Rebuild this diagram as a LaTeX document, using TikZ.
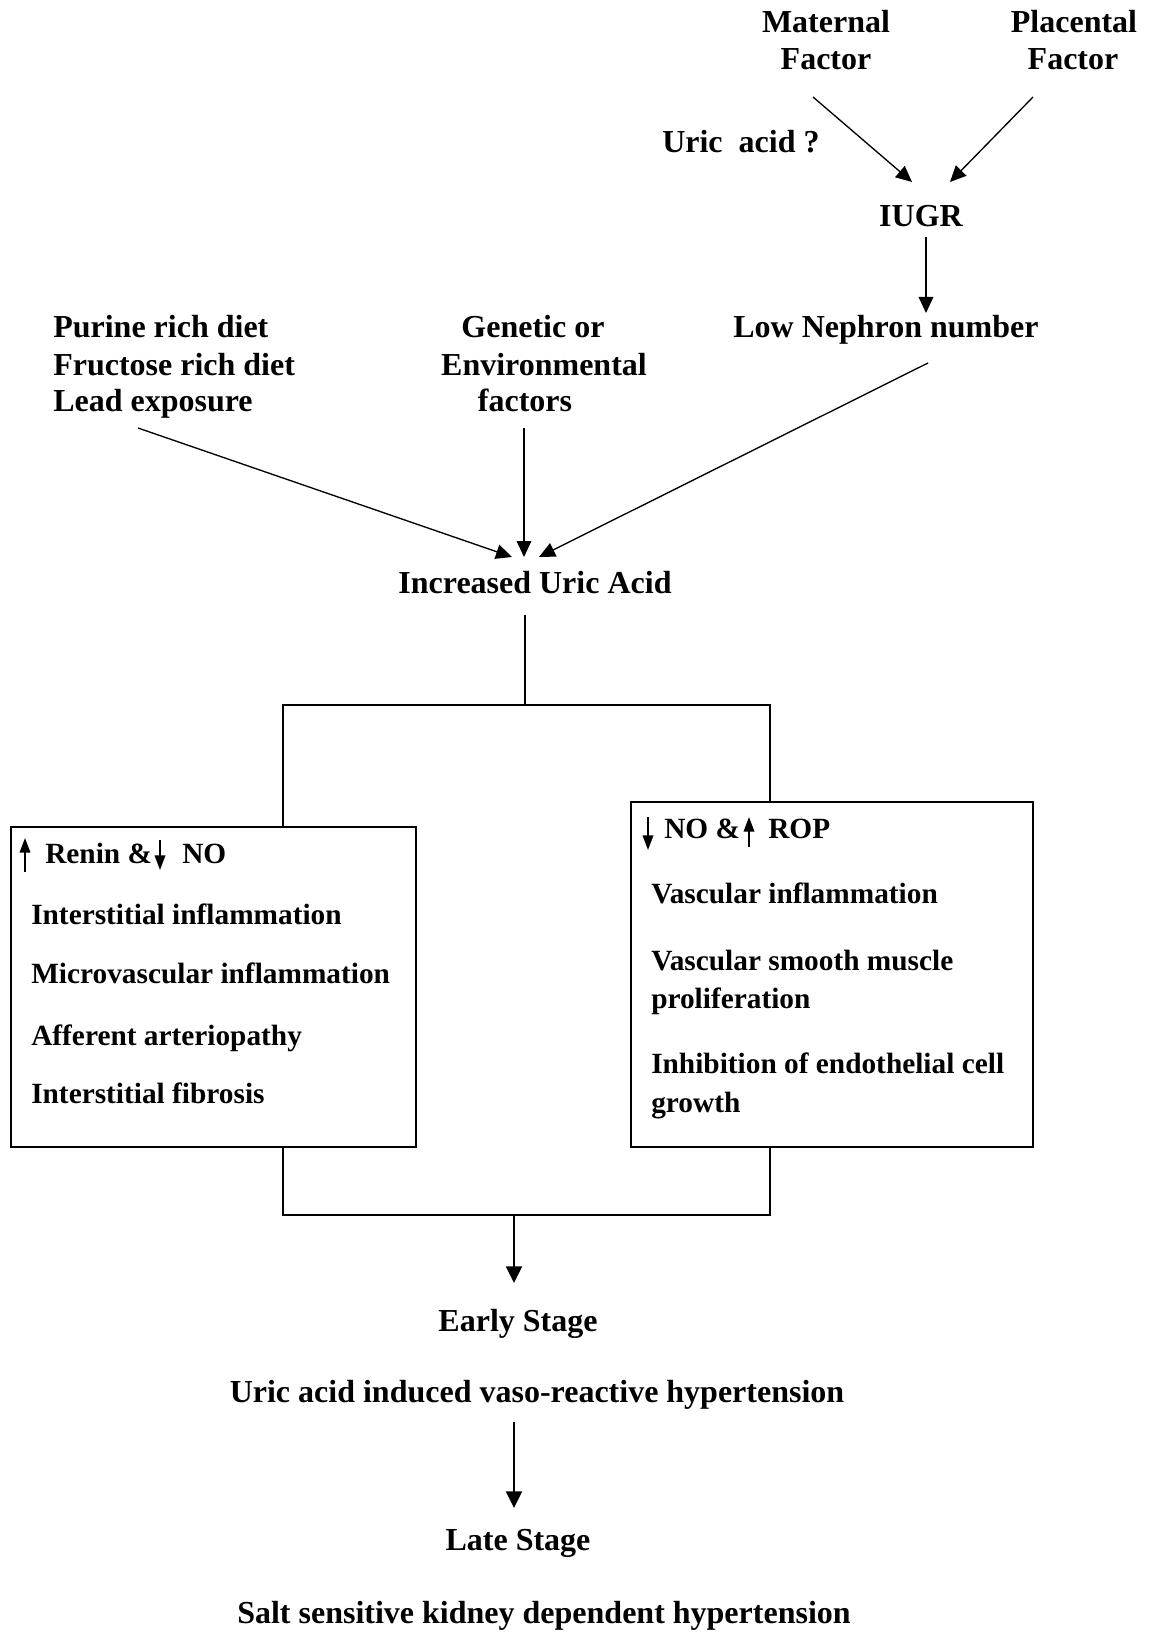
\documentclass[tikz,border=0pt]{standalone}
\usepackage{fontspec}
\setmainfont{Liberation Serif}
\usetikzlibrary{arrows.meta,calc}
\begin{document}
\begin{tikzpicture}[x=0.75pt,y=-0.75pt,
  lbl/.style={inner sep=0pt, anchor=base, font=\fontsize{24}{28}\selectfont\bfseries},
  lblw/.style={lbl, anchor=base west},
  item/.style={inner sep=0pt, anchor=base west, font=\fontsize{22}{26}\selectfont\bfseries},
  panel/.style={draw, line width=1.5pt, inner sep=0pt, anchor=north west},
  flow/.style={line width=1pt, -{Triangle[length=12pt,width=11pt]}},
  flowthick/.style={line width=1.5pt, -{Triangle[length=12.5pt,width=12pt]}},
  wire/.style={line width=1.5pt},
  updown/.style={line width=1.2pt, -{Triangle[length=11pt,width=8pt]}}
]
\useasboundingbox (0,0) rectangle (1152,1633);

% --- upper labels ---
\node[lbl] (mat1) at (826,33) {Maternal};
\node[lbl] (mat2) at (826,70) {Factor};
\node[lbl] (pla1) at (1074,33) {Placental};
\node[lbl] (pla2) at (1073,70) {Factor};
\node[lblw] (uric) at (662,153) {Uric\ \ acid ?};
\node[lbl] (iugr) at (921,227) {IUGR};
\node[lbl] (low) at (886,337) {Low Nephron number};

\node[lblw] (diet1) at (53,337) {Purine rich diet};
\node[lblw] (diet2) at (53,375) {Fructose rich diet};
\node[lblw] (diet3) at (53,411) {Lead exposure};

\node[lbl] (gen1) at (533,337) {Genetic or};
\node[lbl] (gen2) at (544,375) {Environmental};
\node[lbl] (gen3) at (525,411) {factors};

\node[lbl] (inc) at (535,593) {Increased Uric Acid};

% --- arrows of the upper part ---
\draw[flow] ($(mat2.base)+(-13,27)$) -- ($(iugr.base)+(-9,-45)$);
\draw[flow] ($(pla2.base)+(-40,27)$) -- ($(iugr.base)+(29,-45)$);
\draw[flow] ($(iugr.base)+(5,10)$) -- ($(low.base)+(40,-24)$);

\draw[flow] ($(diet3.base west)+(85,17)$) -- ($(inc.base)+(-23,-36)$);
\draw[flow] ($(gen3.base)+(-1,17)$) -- ($(inc.base)+(-11,-36)$);
\draw[flow] ($(low.base)+(42,26)$) -- ($(inc.base)+(4,-36)$);

% --- the two panels ---
\node[panel, minimum width=303.75pt, minimum height=240pt] (lbox) at (10,826) {};
\node[panel, minimum width=301.5pt, minimum height=258.75pt] (rbox) at (630,801) {};

% left panel contents
\draw[updown] (25,872) -- (25,838);
\node[item] (lhead1) at (45,863) {Renin \&};
\draw[updown] (160,840) -- (160,870);
\node[item] (lhead2) at (182,863) {NO};
\node[item] (l1) at (31,924) {Interstitial inflammation};
\node[item] (l2) at (31,983) {Microvascular inflammation};
\node[item] (l3) at (31,1045) {Afferent arteriopathy};
\node[item] (l4) at (31,1103) {Interstitial fibrosis};

% right panel contents
\draw[updown] (648,817) -- (648,850);
\node[item] (rhead1) at (664,838) {NO \&};
\draw[updown] (749,847) -- (749,817);
\node[item] (rhead2) at (768,838) {ROP};
\node[item] (r1) at (651,903) {Vascular inflammation};
\node[item] (r2) at (651,970) {Vascular smooth muscle};
\node[item] (r3) at (651,1008) {proliferation};
\node[item] (r4) at (651,1073) {Inhibition of endothelial cell};
\node[item] (r5) at (651,1112) {growth};

% --- split and merge connectors ---
\coordinate (jtop) at (525,705);
\coordinate (jl) at (283,705);
\coordinate (jr) at (770,705);
\draw[wire] ($(inc.base)+(-10,22)$) -- (jtop);
\draw[wire] (jl |- lbox.north) -- (jl) -- (jr) -- (jr |- rbox.north);

\coordinate (bl) at (283,1215);
\coordinate (br) at (770,1215);
\coordinate (bm) at (514,1215);
\draw[wire] (bl |- lbox.south) -- (bl) -- (br) -- (br |- rbox.south);

% --- lower stages ---
\node[lbl] (early) at (518,1331) {Early Stage};
\node[lbl] (vaso) at (537,1402) {Uric acid induced vaso-reactive hypertension};
\node[lbl] (late) at (518,1550) {Late Stage};
\node[lbl] (salt) at (544,1623) {Salt sensitive kidney dependent hypertension};

\draw[flowthick] (bm) -- ($(early.base)+(-4,-48)$);
\draw[flowthick] ($(vaso.base)+(-23,20)$) -- ($(late.base)+(-4,-42)$);
\end{tikzpicture}
\end{document}
